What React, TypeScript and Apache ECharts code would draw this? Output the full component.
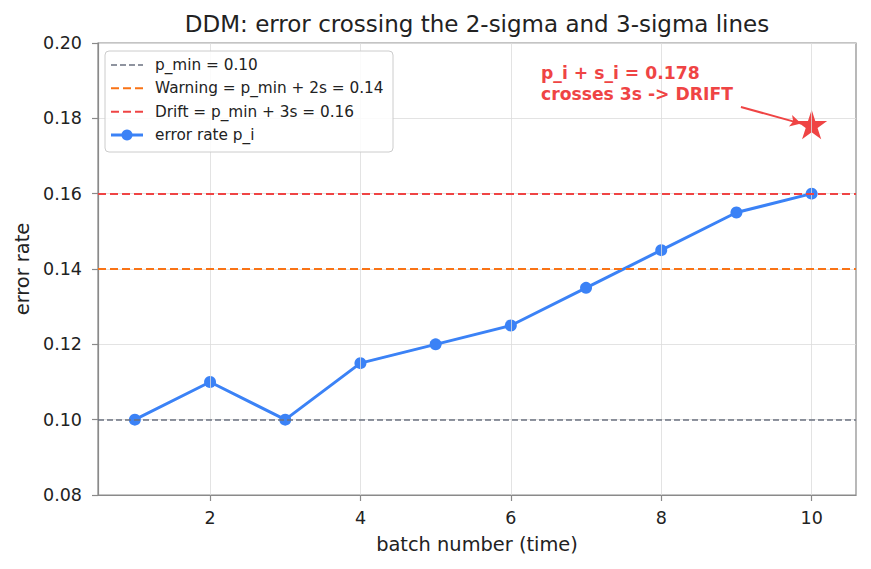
import React, { useEffect, useRef } from "react";
import * as echarts from "echarts";

// Batch index (time) and the observed error rate p_i per batch
const batches = [1, 2, 3, 4, 5, 6, 7, 8, 9, 10];
const errorRates = [0.1, 0.11, 0.1, 0.115, 0.12, 0.125, 0.135, 0.145, 0.155, 0.16];

// DDM reference levels
const P_MIN = 0.1;
const WARNING_LEVEL = 0.14;
const DRIFT_LEVEL = 0.16;

// Point where p_i + s_i crosses the drift line
const crossBatch = 10;
const crossValue = 0.178;

const xTickValues = [2, 4, 6, 8, 10];

const legendLabels = [
  "p_min = 0.10",
  "Warning = p_min + 2s = 0.14",
  "Drift = p_min + 3s = 0.16",
  "error rate p_i",
];

const GRAY = "#6b7280";
const ORANGE = "#f97316";
const RED = "#ef4444";
const BLUE = "#3b82f6";
const FONT = "DejaVu Sans";
const TEXT = "#222222";
const FRAME = "#8a8a8a";
const GRID = "#dcdcdc";

function starPath(): string {
  const pts: string[] = [];
  const inner = 0.381966;
  for (let i = 0; i < 10; i++) {
    const r = i % 2 === 0 ? 1 : inner;
    const a = (-90 + i * 36) * (Math.PI / 180);
    const x = (r * Math.cos(a)).toFixed(4);
    const y = (r * Math.sin(a)).toFixed(4);
    pts.push((i === 0 ? "M" : "L") + x + " " + y);
  }
  return "path://" + pts.join(" ") + " Z";
}

export default function App() {
  const ref = useRef<HTMLDivElement>(null);

  useEffect(() => {
    if (!ref.current) return;
    const chart = echarts.init(ref.current, null, { renderer: "svg" });

    const rowY = [65, 88.3, 111.7, 135];
    const legendGraphics: any[] = [
      {
        type: "rect",
        shape: { x: 105, y: 51, width: 288, height: 101, r: 4 },
        style: { fill: "rgba(255,255,255,0.85)", stroke: "#cccccc", lineWidth: 1 },
        z: 100,
      },
      {
        type: "line",
        shape: { x1: 111, y1: rowY[0], x2: 143, y2: rowY[0] },
        style: { stroke: GRAY, lineWidth: 1.5, lineDash: [6, 3] },
        z: 101,
      },
      {
        type: "line",
        shape: { x1: 111, y1: rowY[1], x2: 143, y2: rowY[1] },
        style: { stroke: ORANGE, lineWidth: 2, lineDash: [8, 4] },
        z: 101,
      },
      {
        type: "line",
        shape: { x1: 111, y1: rowY[2], x2: 143, y2: rowY[2] },
        style: { stroke: RED, lineWidth: 2, lineDash: [8, 4] },
        z: 101,
      },
      {
        type: "line",
        shape: { x1: 111, y1: rowY[3], x2: 143, y2: rowY[3] },
        style: { stroke: BLUE, lineWidth: 3 },
        z: 101,
      },
      {
        type: "circle",
        shape: { cx: 127, cy: rowY[3], r: 5.5 },
        style: { fill: BLUE },
        z: 102,
      },
      ...legendLabels.map((t, i) => ({
        type: "text",
        x: 155,
        y: rowY[i],
        style: {
          text: t,
          fill: TEXT,
          font: `15.3px "${FONT}"`,
          verticalAlign: "middle",
        },
        z: 102,
      })),
    ];

    chart.setOption({
      animation: false,
      backgroundColor: "#ffffff",
      textStyle: { fontFamily: FONT },
      grid: {
        left: 98,
        right: 15,
        top: 43,
        bottom: 74,
        show: true,
        borderColor: FRAME,
        borderWidth: 1.2,
        backgroundColor: "transparent",
      },
      xAxis: {
        type: "value",
        min: 0.51,
        max: 10.59,
        name: "batch number (time)",
        nameLocation: "middle",
        nameGap: 40,
        nameTextStyle: { fontSize: 19.4, color: TEXT, fontFamily: FONT },
        axisLine: { show: true, lineStyle: { color: FRAME, width: 1.2 } },
        axisTick: {
          show: true,
          inside: false,
          length: 6,
          customValues: xTickValues,
          lineStyle: { color: FRAME, width: 1.2 },
        },
        axisLabel: {
          customValues: xTickValues,
          fontSize: 17.5,
          color: TEXT,
          fontFamily: FONT,
          margin: 14,
        },
        splitLine: { show: false },
      },
      yAxis: {
        type: "value",
        min: 0.08,
        max: 0.2,
        interval: 0.02,
        name: "error rate",
        nameLocation: "middle",
        nameRotate: 90,
        nameGap: 66,
        nameTextStyle: { fontSize: 19.4, color: TEXT, fontFamily: FONT },
        axisLine: { show: true, lineStyle: { color: FRAME, width: 1.2 } },
        axisTick: {
          show: true,
          inside: false,
          length: 6,
          lineStyle: { color: FRAME, width: 1.2 },
        },
        axisLabel: {
          fontSize: 17.5,
          color: TEXT,
          fontFamily: FONT,
          margin: 16,
          formatter: (v: number) => v.toFixed(2),
        },
        splitLine: { show: true, lineStyle: { color: GRID, width: 0.8 } },
      },
      series: [
        {
          // vertical grid lines at the x ticks
          type: "line",
          data: [],
          silent: true,
          z: 0,
          markLine: {
            silent: true,
            symbol: ["none", "none"],
            label: { show: false },
            lineStyle: { color: GRID, width: 0.8, type: "solid" },
            data: xTickValues.map((v) => ({ xAxis: v })),
          },
        },
        {
          // DDM threshold levels
          type: "line",
          data: [],
          silent: true,
          z: 1,
          markLine: {
            silent: true,
            symbol: ["none", "none"],
            label: { show: false },
            data: [
              { yAxis: P_MIN, lineStyle: { color: GRAY, width: 1.5, type: [6, 3] } },
              { yAxis: WARNING_LEVEL, lineStyle: { color: ORANGE, width: 2, type: [8, 4] } },
              { yAxis: DRIFT_LEVEL, lineStyle: { color: RED, width: 2, type: [8, 4] } },
            ],
          },
        },
        {
          name: "error rate p_i",
          type: "line",
          z: 3,
          data: batches.map((b, i) => [b, errorRates[i]]),
          symbol: "circle",
          symbolSize: 12,
          itemStyle: { color: BLUE },
          lineStyle: { color: BLUE, width: 3 },
        },
        {
          type: "scatter",
          z: 4,
          data: [[crossBatch, crossValue]],
          symbol: starPath(),
          symbolKeepAspect: true,
          symbolSize: 31,
          symbolOffset: [0, -1.4],
          itemStyle: { color: RED, opacity: 1 },
          markLine: {
            silent: true,
            symbol: ["none", "arrow"],
            symbolSize: [9, 11],
            label: { show: false },
            lineStyle: { color: RED, width: 2, type: "solid", opacity: 1 },
            data: [
              [
                { coord: [9.06, 0.183] },
                { coord: [9.86, 0.1786] },
              ],
            ],
          },
        },
      ],
      graphic: [
        {
          type: "text",
          x: 477,
          y: 24,
          style: {
            text: "DDM: error crossing the 2-sigma and 3-sigma lines",
            fill: TEXT,
            font: `23px "${FONT}"`,
            align: "center",
            verticalAlign: "middle",
          },
        },
        {
          type: "text",
          x: 541,
          y: 62,
          style: {
            text: `p_i + s_i = ${crossValue.toFixed(3)}\ncrosses 3s -> DRIFT`,
            fill: RED,
            font: `bold 17.2px "${FONT}"`,
            lineHeight: 21,
          },
          z: 50,
        },
        ...legendGraphics,
      ],
    });

    return () => chart.dispose();
  }, []);

  return (
    <div
      ref={ref}
      style={{ position: "fixed", left: 0, top: 0, width: 871, height: 569 }}
    />
  );
}
